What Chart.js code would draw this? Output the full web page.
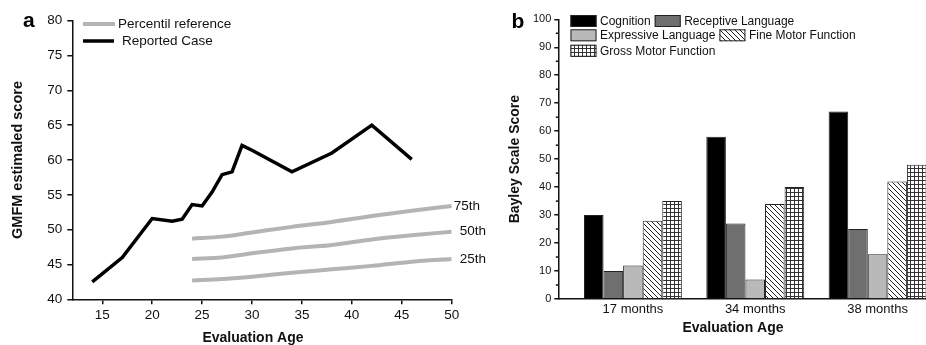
<!DOCTYPE html>
<html><head><meta charset="utf-8">
<script src="https://cdn.jsdelivr.net/npm/chart.js@4.4.1/dist/chart.umd.min.js"></script>
<style>
html,body{margin:0;padding:0;background:#fff;overflow:hidden;width:926px;height:345px}
#c1{position:absolute;left:0;top:0}
#c2{position:absolute;left:470px;top:0}
</style></head><body>
<canvas id="c1" width="500" height="350"></canvas>
<canvas id="c2" width="456" height="350"></canvas>
<script>
// ---------- Panel a data ----------
const caseAges   = [14, 17, 20, 22, 23, 24, 25, 26, 27, 28, 29, 30, 34, 38, 42, 46];
const caseScores = [42.5, 46.0, 51.6, 51.2, 51.5, 53.6, 53.4, 55.4, 57.9, 58.3, 62.1, 61.4, 58.3, 61.0, 65.0, 60.1];
const refAges = [24, 27, 30, 34, 38, 42, 46, 50];
const p75 = [48.7, 49.0, 49.6, 50.4, 51.1, 51.95, 52.7, 53.4];
const p50 = [45.8, 46.0, 46.6, 47.3, 47.8, 48.6, 49.2, 49.7];
const p25 = [42.7, 42.9, 43.25, 43.8, 44.3, 44.8, 45.4, 45.8];
const percentileLabels = ['75th', '50th', '25th'];
const legendNamesA = ['Percentil reference', 'Reported Case'];
const ageTicks = [15, 20, 25, 30, 35, 40, 45, 50];
const scoreTicks = [40, 45, 50, 55, 60, 65, 70, 75, 80];

// ---------- Panel b data ----------
const bayleyCategories = ['17 months', '34 months', '38 months'];
const seriesNames = ['Cognition', 'Receptive Language', 'Expressive Language', 'Fine Motor Function', 'Gross Motor Function'];
const cognition  = [30, 58, 67];
const receptive  = [10, 27, 25];
const expressive = [12, 7, 16];
const fineMotor  = [28, 34, 42];
const grossMotor = [35, 40, 48];
const bayleyTicks = [0, 10, 20, 30, 40, 50, 60, 70, 80, 90, 100];

const FONT = '"Liberation Sans", Arial, Helvetica, sans-serif';
const INK = '#111';

function hatchPattern() {
  const s = 5;
  const c = document.createElement('canvas'); c.width = s; c.height = s;
  const g = c.getContext('2d');
  g.fillStyle = '#fff'; g.fillRect(0, 0, s, s);
  g.strokeStyle = '#222'; g.lineWidth = 1;
  g.beginPath();
  g.moveTo(-1, -1); g.lineTo(s + 1, s + 1);
  g.moveTo(s - 1, -1); g.lineTo(s + 1, 1);
  g.moveTo(-1, s - 1); g.lineTo(1, s + 1);
  g.stroke();
  return g.createPattern(c, 'repeat');
}
function gridPattern() {
  const s = 4;
  const c = document.createElement('canvas'); c.width = s; c.height = s;
  const g = c.getContext('2d');
  g.fillStyle = '#fff'; g.fillRect(0, 0, s, s);
  g.fillStyle = '#333';
  g.fillRect(0, 0, s, 1);
  g.fillRect(0, 0, 1, s);
  return g.createPattern(c, 'repeat');
}

const toXY = (xs, ys) => xs.map((x, i) => ({x: x, y: ys[i]}));
const GREY = '#b4b4b4';

// ---------- Panel a plugin ----------
const decorA = {
  id: 'decorA',
  afterDraw(chart) {
    const ctx = chart.ctx;
    ctx.save();
    ctx.fillStyle = '#000';
    ctx.font = 'bold 21px ' + FONT;
    ctx.textAlign = 'left'; ctx.textBaseline = 'alphabetic';
    ctx.fillText('a', 23, 27);
    // legend
    ctx.lineCap = 'butt';
    ctx.strokeStyle = GREY; ctx.lineWidth = 4;
    ctx.beginPath(); ctx.moveTo(83, 24); ctx.lineTo(115, 24); ctx.stroke();
    ctx.strokeStyle = '#000'; ctx.lineWidth = 3.5;
    ctx.beginPath(); ctx.moveTo(83, 41); ctx.lineTo(114, 41); ctx.stroke();
    ctx.font = '13.5px ' + FONT;
    ctx.fillStyle = INK; ctx.textBaseline = 'middle';
    ctx.fillText(legendNamesA[0], 118, 24.5);
    ctx.fillText(legendNamesA[1], 122, 41.5);
    // percentile end labels
    const dx = [2, 8, 8];
    percentileLabels.forEach((lab, i) => {
      const meta = chart.getDatasetMeta(i);
      const pt = meta.data[meta.data.length - 1];
      ctx.fillText(lab, pt.x + dx[i], pt.y);
    });
    // x title
    ctx.font = 'bold 14px ' + FONT;
    ctx.textAlign = 'center';
    ctx.fillText('Evaluation Age', 253, 338.5);
    ctx.restore();
  }
};

new Chart(document.getElementById('c1'), {
  type: 'line',
  data: {
    datasets: [
      {label: percentileLabels[0], data: toXY(refAges, p75), borderColor: GREY, borderWidth: 4, pointRadius: 0, cubicInterpolationMode: 'monotone'},
      {label: percentileLabels[1], data: toXY(refAges, p50), borderColor: GREY, borderWidth: 4, pointRadius: 0, cubicInterpolationMode: 'monotone'},
      {label: percentileLabels[2], data: toXY(refAges, p25), borderColor: GREY, borderWidth: 4, pointRadius: 0, cubicInterpolationMode: 'monotone'},
      {label: legendNamesA[1], data: toXY(caseAges, caseScores), borderColor: '#000', borderWidth: 3.5, pointRadius: 0, tension: 0}
    ]
  },
  options: {
    responsive: false, animation: false, devicePixelRatio: 1,
    layout: {padding: {left: 0, top: 20.7, right: 48.3, bottom: 0}},
    plugins: {legend: {display: false}, tooltip: {enabled: false}},
    scales: {
      x: {
        type: 'linear', min: 12, max: 50,
        afterBuildTicks: s => { s.ticks = ageTicks.map(v => ({value: v})); },
        afterFit: s => { s.height = 50.7; },
        grid: {drawOnChartArea: false, color: '#111', lineWidth: 1.5, tickLength: 5},
        border: {color: '#111', width: 1.5},
        ticks: {color: INK, font: {family: FONT, size: 13.5}, padding: 3, maxRotation: 0}
      },
      y: {
        type: 'linear', min: 40, max: 80,
        afterBuildTicks: s => { s.ticks = scoreTicks.map(v => ({value: v})); },
        afterFit: s => { s.width = 72.3; },
        grid: {drawOnChartArea: false, color: '#111', lineWidth: 1.5, tickLength: 5},
        border: {color: '#111', width: 1.5},
        ticks: {color: INK, font: {family: FONT, size: 13.5}, padding: 5},
        title: {display: true, text: 'GMFM estimaled score', color: INK, font: {family: FONT, size: 14.5, weight: 'bold'}, padding: {top: 9.3, bottom: 0}}
      }
    }
  },
  plugins: [decorA]
});

// ---------- Panel b ----------
const fills = ['#000000', '#6f6f6f', '#b9b9b9', hatchPattern(), gridPattern()];
const seriesValues = [cognition, receptive, expressive, fineMotor, grossMotor];

const decorB = {
  id: 'decorB',
  afterDraw(chart) {
    const ctx = chart.ctx;
    const ys = chart.scales.y;
    const area = chart.chartArea;
    ctx.save();
    // minor ticks
    ctx.strokeStyle = '#111'; ctx.lineWidth = 1.5;
    for (let v = 5; v < 100; v += 10) {
      const py = ys.getPixelForValue(v);
      ctx.beginPath(); ctx.moveTo(area.left - 2.5, py); ctx.lineTo(area.left, py); ctx.stroke();
    }
    // panel label
    ctx.fillStyle = '#000';
    ctx.font = 'bold 21px ' + FONT;
    ctx.textAlign = 'left'; ctx.textBaseline = 'alphabetic';
    ctx.fillText('b', 41.5, 27.5);
    // legend
    const rows = [[0, 1], [2, 3], [4]];
    const rowY = [21, 35.3, 50.8];
    ctx.font = '12px ' + FONT;
    ctx.textBaseline = 'middle';
    rows.forEach((row, r) => {
      let x = 100.5;
      row.forEach(di => {
        const ds = chart.data.datasets[di];
        ctx.fillStyle = ds.backgroundColor;
        ctx.fillRect(x, rowY[r] - 6, 26, 12);
        ctx.strokeStyle = '#222'; ctx.lineWidth = 1;
        ctx.strokeRect(x + 0.5, rowY[r] - 5.5, 25, 11);
        ctx.fillStyle = INK;
        const tx = x + 29.5;
        ctx.fillText(ds.label, tx, rowY[r] + 0.5);
        x = tx + ctx.measureText(ds.label).width + 4;
      });
    });
    // x title
    ctx.font = 'bold 14px ' + FONT;
    ctx.textAlign = 'center';
    ctx.fillStyle = INK;
    ctx.fillText('Evaluation Age', 263, 328.5);
    ctx.restore();
  }
};

new Chart(document.getElementById('c2'), {
  type: 'bar',
  data: {
    datasets: seriesNames.map((name, i) => ({
      label: name,
      data: bayleyCategories.map((c, k) => ({x: k + 1, y: seriesValues[i][k]})),
      backgroundColor: fills[i],
      borderColor: '#222',
      borderWidth: 1,
      barPercentage: 1.0,
      categoryPercentage: 0.8
    }))
  },
  options: {
    responsive: false, animation: false, devicePixelRatio: 1,
    layout: {padding: {left: 0, top: 19.3, right: 0, bottom: 0}},
    plugins: {legend: {display: false}, tooltip: {enabled: false}},
    scales: {
      x: {
        type: 'linear', min: 0.39, max: 3.396, offset: false,
        afterBuildTicks: s => { s.ticks = bayleyCategories.map((c, k) => ({value: k + 1})); },
        afterFit: s => { s.height = 51; },
        grid: {display: true, drawOnChartArea: false, drawTicks: false, offset: false},
        border: {color: '#111', width: 1.5},
        ticks: {color: INK, font: {family: FONT, size: 13}, padding: 2.5, maxRotation: 0, autoSkip: false,
                callback: v => bayleyCategories[Math.round(v) - 1]}
      },
      y: {
        type: 'linear', min: 0, max: 100,
        afterBuildTicks: s => { s.ticks = bayleyTicks.map(v => ({value: v})); },
        afterFit: s => { s.width = 88.3; },
        grid: {drawOnChartArea: false, color: '#111', lineWidth: 1.5, tickLength: 4},
        border: {color: '#111', width: 1.5},
        ticks: {color: INK, font: {family: FONT, size: 11}, padding: 3},
        title: {display: true, text: 'Bayley Scale Score', color: INK, font: {family: FONT, size: 14, weight: 'bold'}, padding: {top: 36.6, bottom: 0}}
      }
    }
  },
  plugins: [decorB]
});
</script>
</body></html>
